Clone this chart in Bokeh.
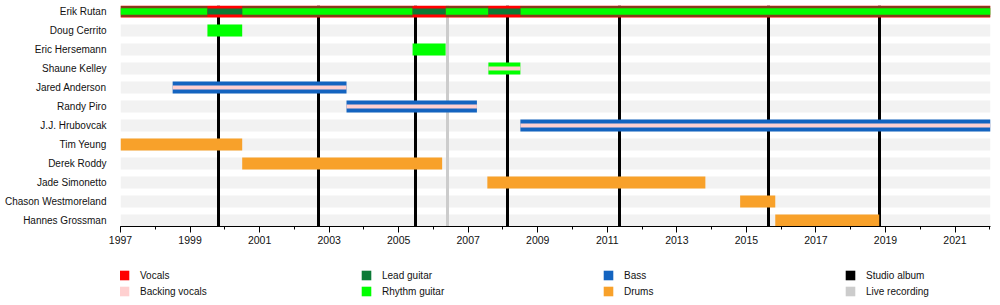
from bokeh.plotting import figure
from bokeh.layouts import column
from bokeh.models import Range1d, FixedTicker, Legend, LegendItem, ColumnDataSource
from bokeh.embed import file_html
from bokeh.resources import INLINE

# ---------------- data ----------------
START = 1997
END = 2022.02

members = ["Erik Rutan", "Doug Cerrito", "Eric Hersemann", "Shaune Kelley",
           "Jared Anderson", "Randy Piro", "J.J. Hrubovcak", "Tim Yeung",
           "Derek Roddy", "Jade Simonetto", "Chason Westmoreland", "Hannes Grossman"]

# main role of every member (full-height bar)
main_member = ["Erik Rutan", "Doug Cerrito", "Eric Hersemann", "Shaune Kelley",
               "Jared Anderson", "Randy Piro", "J.J. Hrubovcak", "Tim Yeung",
               "Derek Roddy", "Jade Simonetto", "Chason Westmoreland", "Hannes Grossman"]
main_role = ["Vocals", "Rhythm guitar", "Rhythm guitar", "Rhythm guitar",
             "Bass", "Bass", "Bass", "Drums", "Drums", "Drums", "Drums", "Drums"]
main_start = [1997, 1999.5, 2005.4, 2007.58, 1998.5, 2003.5, 2008.5,
              1997, 2000.5, 2007.55, 2014.82, 2015.83]
main_end = [END, 2000.5, 2006.35, 2008.5, 2003.5, 2007.25, END,
            2000.5, 2006.25, 2013.82, 2015.83, 2018.82]

# backing vocals (thin centre bar)
bv_member = ["Shaune Kelley", "Jared Anderson", "Randy Piro", "J.J. Hrubovcak"]
bv_start = [2007.58, 1998.5, 2003.5, 2008.5]
bv_end = [2008.5, 2003.5, 2007.25, END]

# Erik Rutan: lead + rhythm guitar periods
erik_rhythm_start = [1997, 2000.5, 2006.35, 2008.5]
erik_rhythm_end = [1999.5, 2005.4, 2007.58, END]
# Erik Rutan: lead guitar only (another rhythm guitarist present)
erik_lead_start = [1999.5, 2005.4, 2007.58]
erik_lead_end = [2000.5, 2006.35, 2008.5]

studio_albums = [1999.82, 2002.7, 2005.48, 2008.12, 2011.35, 2015.63, 2018.82]
live_recordings = [2006.41]

year_ticks = list(range(1997, 2022, 2))
minor_year_ticks = list(range(1997, 2023))

role_colors = {
    "Vocals": "#ff0000",
    "Backing vocals": "#ffd0d0",
    "Lead guitar": "#0b7a36",
    "Rhythm guitar": "#00ff00",
    "Bass": "#1464c0",
    "Drums": "#f8a12a",
    "Studio album": "#000000",
    "Live recording": "#cccccc",
}
legend_roles = ["Vocals", "Backing vocals", "Lead guitar", "Rhythm guitar",
                "Bass", "Drums", "Studio album", "Live recording"]

# ---------------- helpers ----------------
n = len(members)
ROW_PX = 19.0


def px(h):
    return h / ROW_PX


def ypos(name):
    return n - 1 - members.index(name)


FONT = "Liberation Sans"
FSIZE = "10px"

p = figure(width=1000, height=250,
           x_range=Range1d(START, END),
           y_range=Range1d(-px(6), n - 1 + px(6)),
           output_backend="svg", toolbar_location=None,
           min_border_left=120, min_border_right=10,
           min_border_top=5, min_border_bottom=24)
p.outline_line_color = None
p.xgrid.visible = False
p.ygrid.visible = False
p.background_fill_color = "white"
p.border_fill_color = "white"

# row stripes
p.hbar(y=list(range(n)), left=START, right=END, height=px(12),
       fill_color="#f2f2f2", line_color=None)

# album lines
p.vspan(x=studio_albums, line_color=role_colors["Studio album"], line_width=3)
p.vspan(x=live_recordings, line_color=role_colors["Live recording"], line_width=3)

# main bars
src = ColumnDataSource(dict(
    y=[ypos(m) for m in main_member],
    left=main_start, right=main_end,
    color=[role_colors[r] for r in main_role]))
p.hbar(y="y", left="left", right="right", height=px(12), fill_color="color",
       line_color=None, source=src)

# Erik: lead guitar (wide, under rhythm) and rhythm guitar
ye = ypos("Erik Rutan")
p.hbar(y=[ye] * len(erik_rhythm_start), left=erik_rhythm_start, right=erik_rhythm_end,
       height=px(11), fill_color=role_colors["Lead guitar"], fill_alpha=0.5, line_color=None)
p.hbar(y=[ye] * len(erik_rhythm_start), left=erik_rhythm_start, right=erik_rhythm_end,
       height=px(6.5), fill_color=role_colors["Rhythm guitar"], line_color=None)
p.hbar(y=[ye] * len(erik_lead_start), left=erik_lead_start, right=erik_lead_end,
       height=px(6), fill_color=role_colors["Lead guitar"], line_color=None)

# backing vocals
p.hbar(y=[ypos(m) for m in bv_member], left=bv_start, right=bv_end, height=px(4),
       fill_color=role_colors["Backing vocals"], line_color=None)

# ---------------- axes ----------------
yax = p.yaxis[0]
yax.ticker = FixedTicker(ticks=list(range(n)))
yax.major_label_overrides = {ypos(m): m for m in members}
yax.axis_line_color = None
yax.major_tick_line_color = None
yax.minor_tick_line_color = None
yax.major_label_standoff = 8
yax.major_label_text_font = FONT
yax.major_label_text_font_size = FSIZE
yax.major_label_text_color = "#111111"

xax = p.xaxis[0]
xax.ticker = FixedTicker(ticks=year_ticks, minor_ticks=minor_year_ticks)
xax.major_tick_in = 0
xax.major_tick_out = 6
xax.minor_tick_in = 0
xax.minor_tick_out = 3
xax.axis_line_color = "black"
xax.major_tick_line_color = "black"
xax.minor_tick_line_color = "black"
xax.major_label_standoff = 3
xax.major_label_text_font = FONT
xax.major_label_text_font_size = "10.5px"
xax.major_label_text_color = "#111111"

# ---------------- legend (separate strip, frame aligned with the chart) ----------------
lg = figure(width=1000, height=55, x_range=Range1d(0, 1), y_range=Range1d(0, 1),
            output_backend="svg", toolbar_location=None,
            x_axis_location=None, y_axis_location=None,
            min_border_left=0, min_border_right=0, min_border_top=0, min_border_bottom=0)
lg.outline_line_color = None
lg.xgrid.visible = False
lg.ygrid.visible = False

items = []
for r in legend_roles:
    rr = lg.hbar(y=[-100], left=[0], right=[0.1], height=0.5,
                 fill_color=role_colors[r], line_color=None)
    items.append(LegendItem(label=r, renderers=[rr]))

legend = Legend(items=items, location=(-2, 8), orientation="vertical", nrows=2,
                glyph_width=12, glyph_height=12, label_standoff=10, label_width=216,
                label_height=12, spacing=4, padding=0, margin=0,
                border_line_color=None, background_fill_alpha=0,
                label_text_font=FONT, label_text_font_size=FSIZE,
                label_text_color="#111111")
lg.add_layout(legend)

layout = column(p, lg, spacing=0)
open("out.html", "w").write(file_html(layout, INLINE))
